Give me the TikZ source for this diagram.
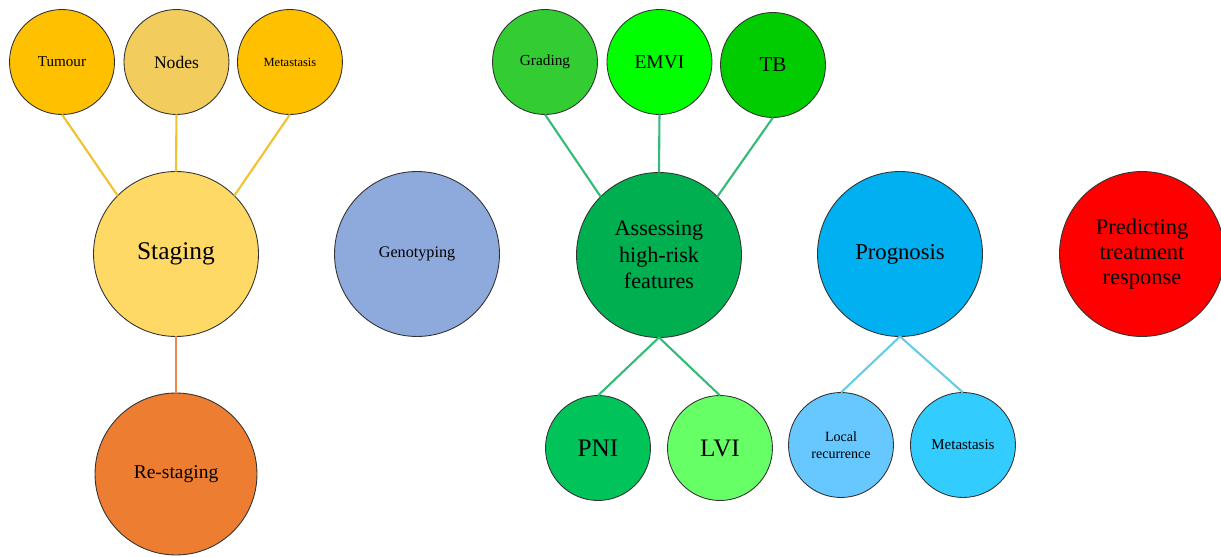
\documentclass[tikz,border=0pt]{standalone}
\usepackage{fontspec}
\setmainfont{Liberation Serif}
\usetikzlibrary{positioning}

\definecolor{gold}{HTML}{FFC000}
\definecolor{sand}{HTML}{F2CC5C}
\definecolor{straw}{HTML}{FFD966}
\definecolor{rust}{HTML}{ED7D31}
\definecolor{slate}{HTML}{8EA9DB}
\definecolor{leafgreen}{HTML}{33CC33}
\definecolor{limegreen}{HTML}{00FF00}
\definecolor{midgreen}{HTML}{00CC00}
\definecolor{deepgreen}{HTML}{00B050}
\definecolor{pnigreen}{HTML}{00C35A}
\definecolor{palegreen}{HTML}{66FF66}
\definecolor{sky}{HTML}{00B0F0}
\definecolor{palesky}{HTML}{66C8FF}
\definecolor{brightsky}{HTML}{33CCFF}
\definecolor{signal}{HTML}{FF0000}
\definecolor{linkyellow}{HTML}{F2C12E}
\definecolor{linkgreen}{HTML}{33BB77}
\definecolor{linkblue}{HTML}{66CCE6}
\definecolor{linkorange}{HTML}{E8884A}

\newcommand{\fsz}[1]{\fontsize{#1}{1.2\dimexpr#1pt\relax}\selectfont}

\begin{document}
\begin{tikzpicture}[x=0.02cm,y=-0.02cm,
	bubble/.style={circle,draw=black!80,line width=0.5pt,inner sep=0pt,outer sep=0pt,align=center},
	leaf/.style={bubble,minimum size=2.1cm},
	hub/.style={bubble,minimum size=3.3cm},
	pt/.style={font=\fsz{#1}},
	link/.style={line width=1.2pt}]
\useasboundingbox (0,0) rectangle (1221,557);

% staging group
\node[hub,fill=straw,pt=14.5]		(staging)	at (176,254)		{Staging};
\node[leaf,fill=gold,pt=8.6]		(tumour)	at (62,62)		{Tumour};
\node[leaf,fill=sand,pt=10]		(nodes)		[right of=tumour,node distance=2.29cm]	{Nodes};
\node[leaf,fill=gold,pt=7.1]		(metaA)		[right of=nodes,node distance=2.27cm]	{Metastasis};
\node[bubble,minimum size=3.24cm,fill=rust,pt=11.1]	(restaging)	at (176,474)	{Re-staging};

% genotyping
\node[hub,fill=slate,pt=9.2]		(geno)		at (417,254)		{Genotyping};

% high-risk features group
\node[hub,fill=deepgreen,pt=12.6]	(assess)	at (659,255)		{Assessing\\high-risk\\features};
\node[leaf,fill=leafgreen,pt=8.7]	(grading)	at (545,62)		{Grading};
\node[leaf,fill=limegreen,pt=11.1]	(emvi)		[right of=grading,node distance=2.29cm]	{EMVI};
\node[leaf,fill=midgreen,pt=12]		(tb)		at (773,65)		{TB};
\node[leaf,fill=pnigreen,pt=14.4]	(pni)		at (598,448)		{PNI};
\node[leaf,fill=palegreen,pt=14.3]	(lvi)		[right of=pni,node distance=2.44cm]	{LVI};

% prognosis group
\node[hub,fill=sky,pt=12.9]		(prog)		at (900,254)		{Prognosis};
\node[leaf,fill=palesky,pt=8]		(local)		at (841,445)		{Local\\recurrence};
\node[leaf,fill=brightsky,pt=8.5]	(metaB)		[right of=local,node distance=2.44cm]	{Metastasis};

% treatment response
\node[hub,fill=signal,font=\fontsize{12.8}{14.2}\selectfont]	(predict)	at (1142,254)	{Predicting\\treatment\\response};

\path[link,draw=linkyellow]	(tumour.south)	edge	(staging.north west)
				(nodes.south)	edge	(staging.north)
				(metaA.south)	edge	(staging.north east);
\path[link,draw=linkorange]	(staging.south)	edge	(restaging.north);
\path[link,draw=linkgreen]	(grading.south)	edge	(assess.north west)
				(emvi.south)	edge	(assess.north)
				(tb.south)	edge	(assess.north east)
				(assess.south)	edge	(pni.north)
						edge	(lvi.north);
\path[link,draw=linkblue]	(prog.south)	edge	(local.north)
						edge	(metaB.north);
\end{tikzpicture}
\end{document}
